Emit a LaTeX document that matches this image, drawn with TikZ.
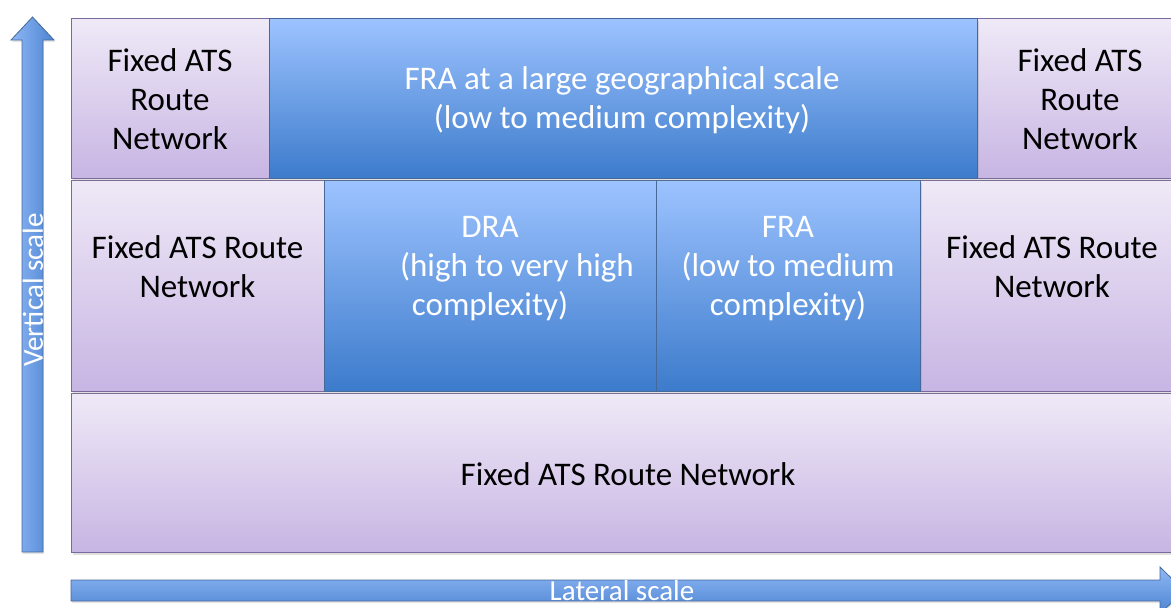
\documentclass[tikz,border=0pt]{standalone}
\usepackage{fontspec}
\setmainfont{Carlito}
\usetikzlibrary{shadows}
\definecolor{pTop}{HTML}{EFE9F7}
\definecolor{pBot}{HTML}{C7B5E3}
\definecolor{pEdge}{HTML}{7A6A9C}
\definecolor{bTop}{HTML}{9DC3FF}
\definecolor{bBot}{HTML}{3C7BCB}
\definecolor{bEdge}{HTML}{46699A}
\definecolor{aLeft}{HTML}{8FB7F5}
\definecolor{aRight}{HTML}{4C84D2}
\begin{document}
\begin{tikzpicture}[x=1pt,y=-1pt,
  fixedbox/.style={draw=pEdge,line width=1.2pt,top color=pTop,bottom color=pBot,anchor=north west,inner sep=0pt,
     drop shadow={opacity=0.25,shadow xshift=1pt,shadow yshift=-2pt}},
  flexbox/.style={draw=bEdge,line width=1.2pt,top color=bTop,bottom color=bBot,anchor=north west,inner sep=0pt,
     drop shadow={opacity=0.25,shadow xshift=1pt,shadow yshift=-2pt}},
  darktxt/.style={font=\fontsize{33}{39}\selectfont,text=black,align=center},
  lighttxt/.style={font=\fontsize{33}{39}\selectfont,text=white,align=center},
  scaletxt/.style={font=\fontsize{29}{34}\selectfont,text=white},
  arrowshape/.style={draw=bEdge,line width=0.8pt,left color=aLeft,right color=aRight}
]
\useasboundingbox (0,0) rectangle (1171,608);
\clip (0,0) rectangle (1171,608);

% vertical arrow
\path[arrowshape,drop shadow={opacity=0.2,shadow xshift=1pt,shadow yshift=-2pt}]
  (22,552) -- (22,40) -- (11,40) -- (32.5,17) -- (54,40) -- (43,40) -- (43,552) -- cycle;
\node[scaletxt,rotate=90] (vlabel) at (33,290) {Vertical scale};

% lateral arrow
\path[draw=bEdge,line width=0.8pt,top color=aLeft,bottom color=aRight,drop shadow={opacity=0.2,shadow xshift=1pt,shadow yshift=-2pt}]
  (71,580) -- (1160,580) -- (1160,567) -- (1184,590.5) -- (1160,614) -- (1160,601) -- (71,601) -- cycle;
\node[scaletxt] (hlabel) at (622,591) {Lateral scale};

% bottom row
\node[fixedbox,minimum width=1113pt,minimum height=159pt] (bot) at (71,393) {};
\node[darktxt] (bottxt) at ([yshift=-1.5pt]bot.center) {Fixed ATS Route Network};

% middle row
\node[fixedbox,minimum width=253pt,minimum height=211pt] (midl) at (71,180) {};
\node[fixedbox,minimum width=264pt,minimum height=211pt] (midr) at (920,180) {};
\node[flexbox,minimum width=332pt,minimum height=211pt] (dra) at (324,180) {};
\node[flexbox,minimum width=264pt,minimum height=211pt] (fra) at (656,180) {};
\node[darktxt] (midltxt) at (197.5,266.5) {Fixed ATS Route\\Network};
\node[darktxt] (midrtxt) at (1052,266.5) {Fixed ATS Route\\Network};
\node[lighttxt] (dratxt) at (490,268.5) {DRA\\\hspace*{54pt}(high to very high\\complexity)};
\node[lighttxt] (fratxt) at (788,268.5) {FRA\\(low to medium\\complexity)};

% top row
\node[fixedbox,minimum width=198pt,minimum height=160pt] (topl) at (71,18) {};
\node[fixedbox,minimum width=207pt,minimum height=160pt] (topr) at (977,18) {};
\node[flexbox,minimum width=708pt,minimum height=160pt] (topfra) at (269,18) {};
\node[darktxt] (topltxt) at (170,99) {Fixed ATS\\Route\\Network};
\node[darktxt] (toprtxt) at (1080,99) {Fixed ATS\\Route\\Network};
\node[lighttxt] (topfratxt) at (622,100) {FRA at a large geographical scale\\(low to medium complexity)};
\end{tikzpicture}
\end{document}
